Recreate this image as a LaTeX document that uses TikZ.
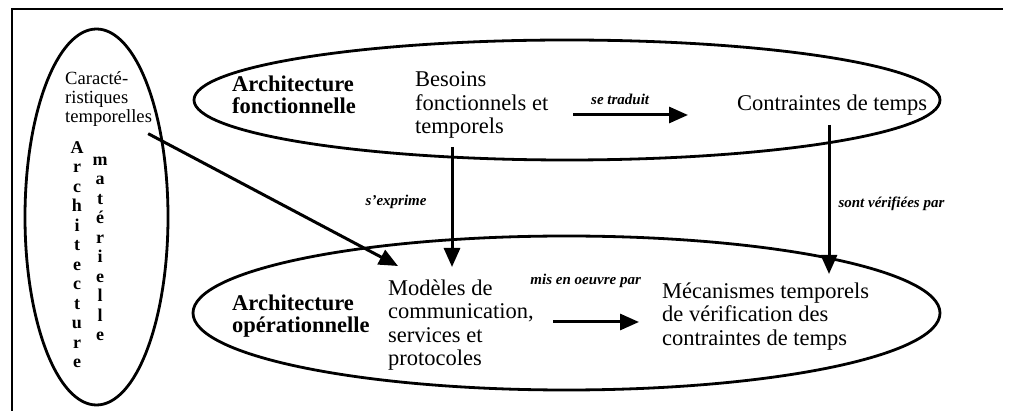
\documentclass[tikz,border=0pt]{standalone}
\usepackage{fontspec}
\setmainfont{Liberation Serif}
\usetikzlibrary{arrows.meta}
\usetikzlibrary{shapes.geometric}
\newcommand{\sizetext}{\fontsize{22.5}{23.2}\selectfont}
\newcommand{\sizetitle}{\fontsize{22.5}{22}\selectfont\bfseries}
\newcommand{\sizesmall}{\fontsize{18.6}{19}\selectfont}
\newcommand{\sizeletter}{\fontsize{18}{19.5}\selectfont\bfseries}
\newcommand{\sizelabel}{\fontsize{15}{17}\selectfont\bfseries\itshape}
\tikzset{
    frame/.style={line width=2.2pt, line cap=rect},
    zone/.style={draw, ellipse, line width=2.8pt, inner sep=0pt},
    txt/.style={anchor=west, align=left, inner sep=0pt, font=\sizetext},
    title/.style={txt, font=\sizetitle},
    small/.style={txt, font=\sizesmall},
    letters/.style={align=center, inner sep=0pt, font=\sizeletter},
    lbl/.style={inner sep=0pt, font=\sizelabel},
    link/.style={line width=3pt, -{Triangle[length=19pt, width=16pt]}},
}

\begin{document}
\begin{tikzpicture}[x=1pt, y=-1pt]
    \useasboundingbox (0,0) rectangle (1012,411);
    \draw[frame] (1002,9) -- (12,9) -- (12,411);

    % architecture materielle
    \path
        (96.5,217) node[zone, minimum width=143pt, minimum height=376pt] (mat) {}
        (65,99) node[small] (caract) {Caracté-\\ristiques\\temporelles}
        (77,254.5) node[letters] (mat-archi) {A\\r\\c\\h\\i\\t\\e\\c\\t\\u\\r\\e}
        (100,249) node[letters] (mat-word) {m\\a\\t\\é\\r\\i\\e\\l\\l\\e};

    % architecture fonctionnelle
    \path
        (567,100) node[zone, minimum width=746pt, minimum height=120pt] (fonct) {}
        (232,95) node[title] (fonct-title) {Architecture\\fonctionnelle}
        (415,105) node[txt] (besoins) {Besoins\\fonctionnels et\\temporels}
        (737,105) node[txt] (contraintes) {Contraintes de temps};

    % architecture operationnelle
    \path
        (566.5,313) node[zone, minimum width=747pt, minimum height=154pt] (oper) {}
        (232,316.5) node[title] (oper-title) {Architecture\\opérationnelle}
        (388,325) node[txt] (modeles) {Modèles de\\communication,\\services et\\protocoles}
        (662,316.5) node[txt] (mecanismes) {Mécanismes temporels\\de vérification des\\contraintes de temps};

    \coordinate (traduit-start) at (573,115);
    \coordinate (traduit-end) at (688,115);
    \coordinate (exprime-start) at (452,147);
    \coordinate (exprime-end) at (452,267);
    \coordinate (verif-start) at (829,125);
    \coordinate (verif-end) at (829,274);
    \coordinate (caract-end) at (398,266);
    \coordinate (oeuvre-start) at (553,322);
    \coordinate (oeuvre-end) at (639,322);

    \draw[link] (traduit-start) -- node[lbl, pos=0.41, above=9pt] (traduit-lbl) {se traduit} (traduit-end);
    \draw[link] (exprime-start) -- node[lbl, pos=0.46, left=24pt] (exprime-lbl) {s'exprime} (exprime-end);
    \draw[link] (verif-start) -- node[lbl, pos=0.53, right=8pt] (verif-lbl) {sont vérifiées par} (verif-end);
    \draw[link] (oeuvre-start) -- node[lbl, pos=0.38, above=33pt] (oeuvre-lbl) {mis en oeuvre par} (oeuvre-end);
    \draw[link] ([xshift=-4pt, yshift=-7pt]caract.south east) -- (caract-end);
\end{tikzpicture}
\end{document}
